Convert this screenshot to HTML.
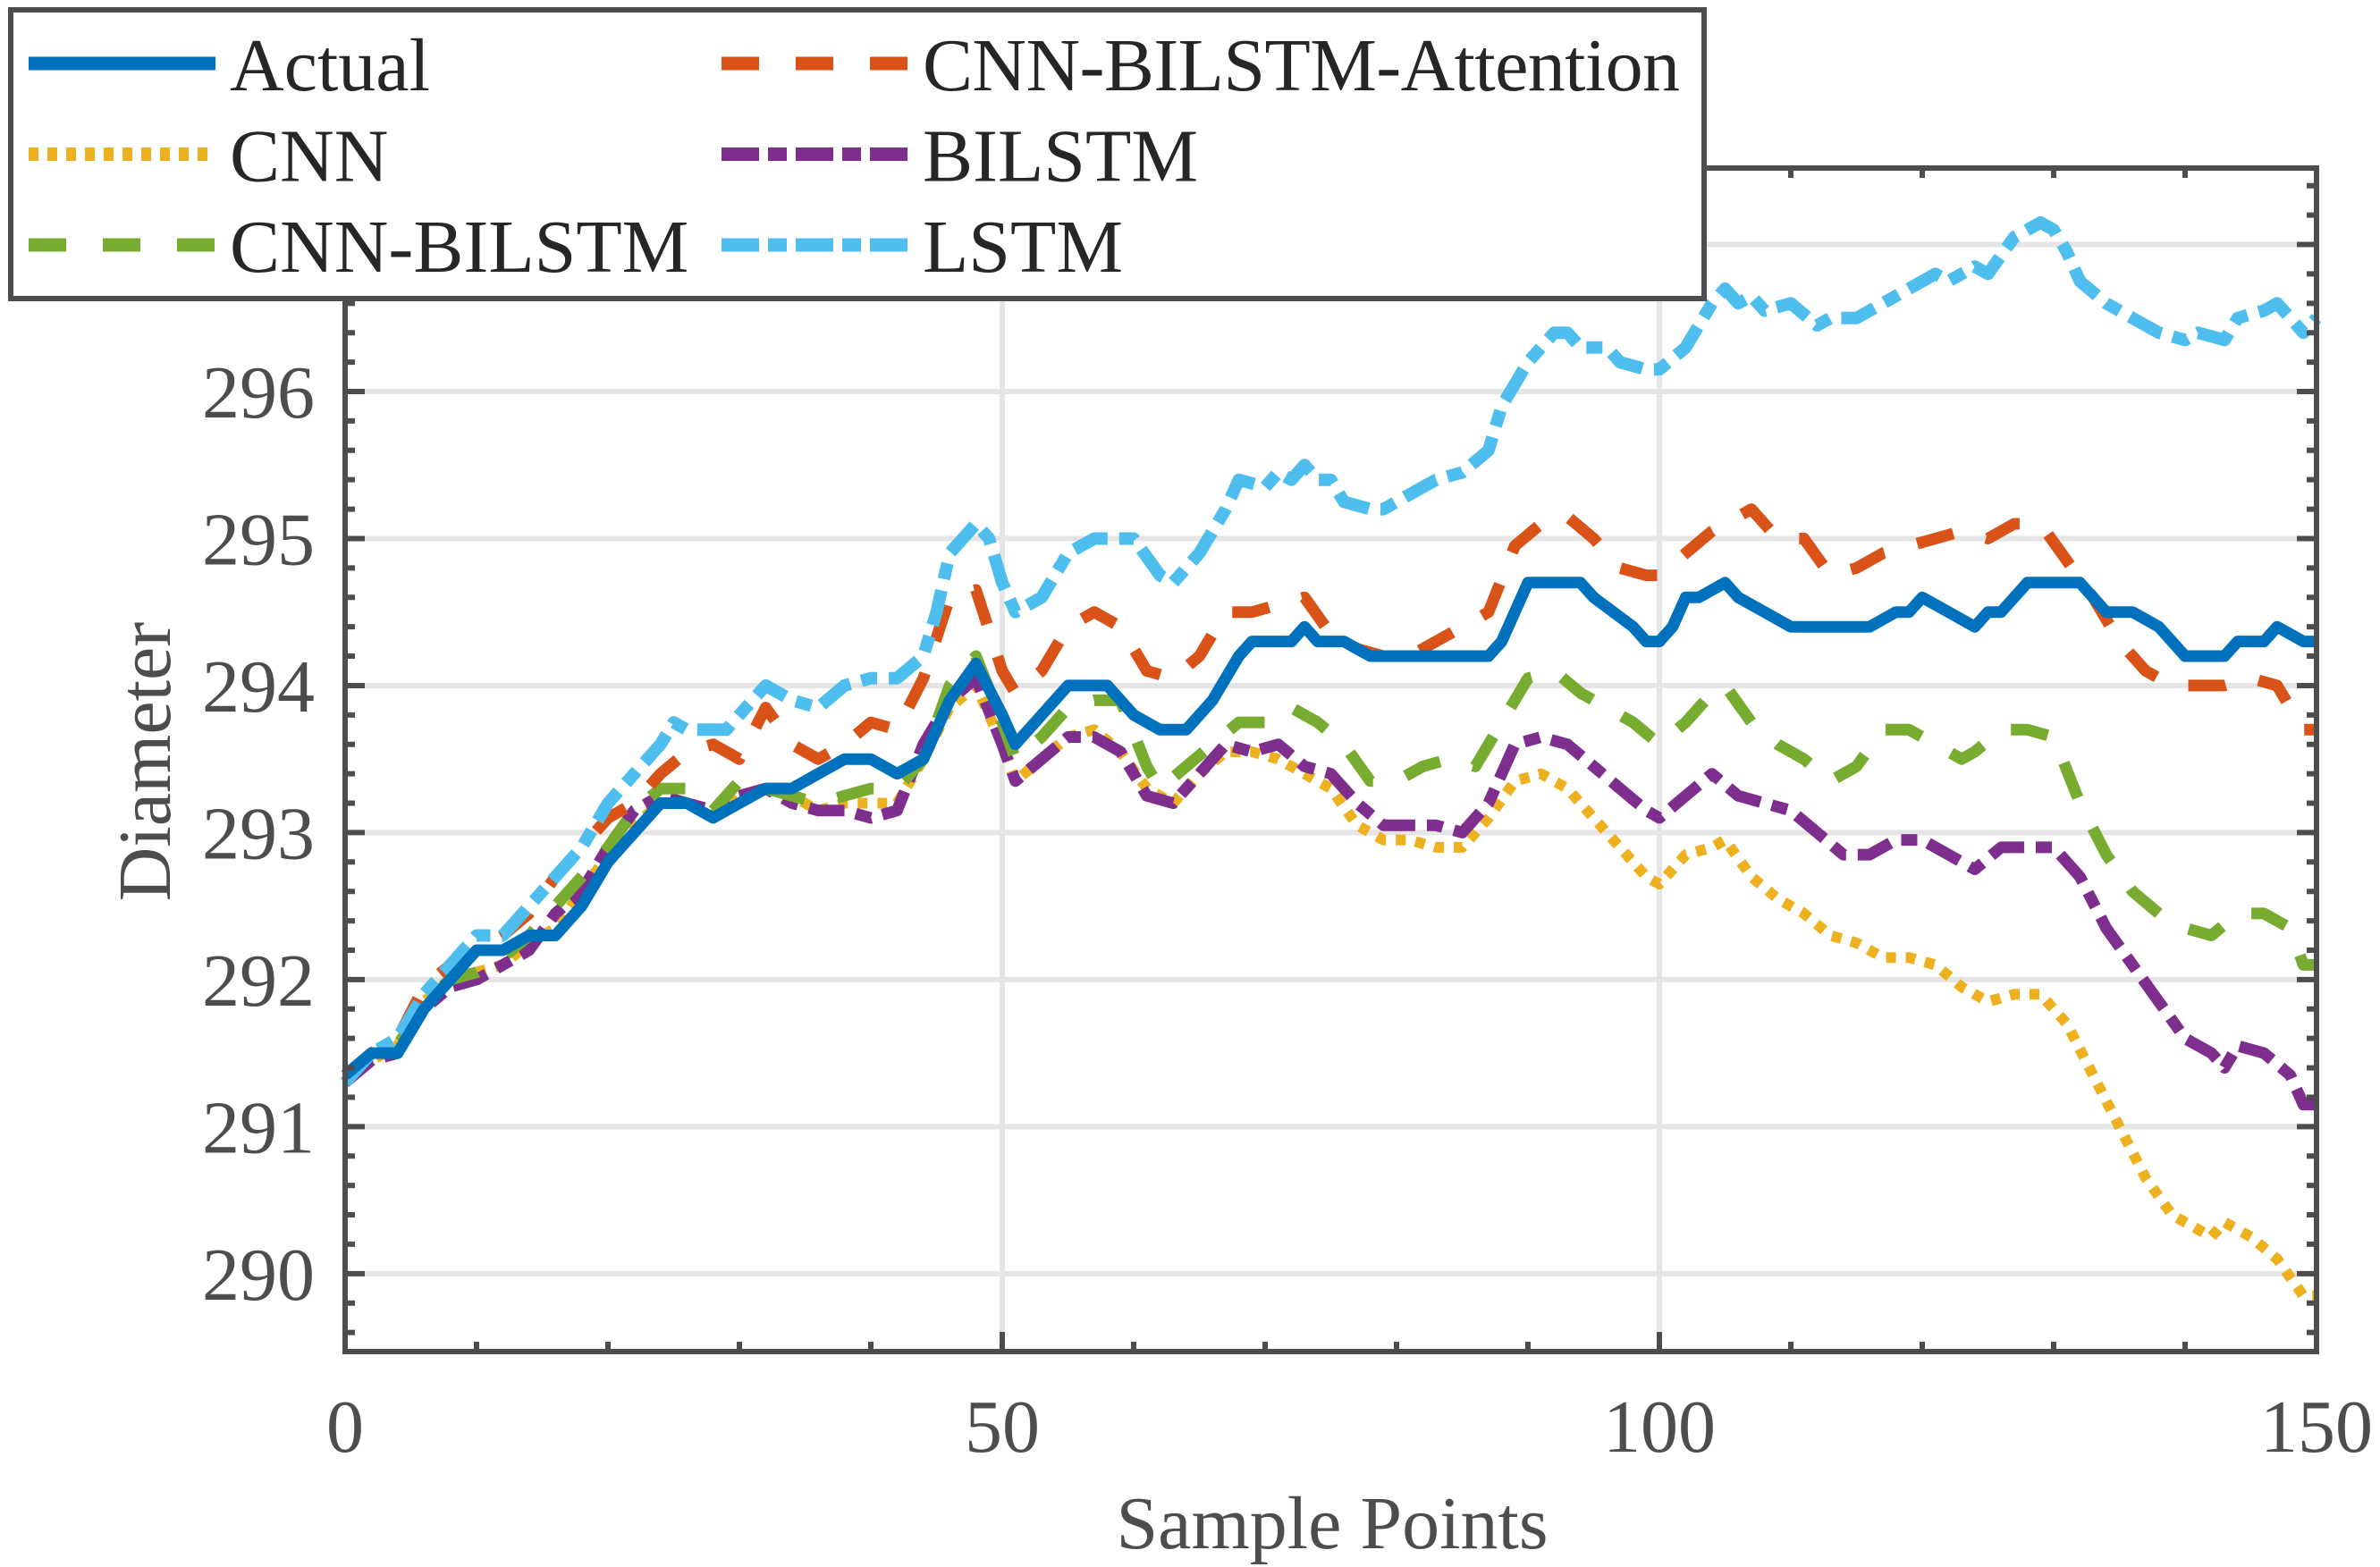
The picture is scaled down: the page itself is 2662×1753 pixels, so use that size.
<!DOCTYPE html>
<html><head><meta charset="utf-8"><style>
html,body{margin:0;padding:0;background:#fff;}
svg{display:block;font-family:"Liberation Serif",serif;}
</style></head><body>
<svg id="chart" width="2662" height="1753" viewBox="0 0 2662 1753" xmlns="http://www.w3.org/2000/svg">
<g id="grid"></g>
<g id="series"></g>
<g id="axes"></g>
<text x="0" y="0" transform="translate(190,852) rotate(-90)" text-anchor="middle" font-size="84" fill="#4d4d4d">Diameter</text>
<text x="1490" y="1732" text-anchor="middle" font-size="84" fill="#4d4d4d">Sample Points</text>
<g id="legend"></g>
</svg>
<script>
const xTicks=[0,50,100,150];
const yTicks=[290,291,292,293,294,295,296,297];
const names=["Actual","CNN","CNN-BILSTM","CNN-BILSTM-Attention","BILSTM","LSTM"];
const actualX=[0,2,4,6,8,10,12,14,16,18,20,22,24,26,28,30,32,34,36,38,40,42,44,46,48,50,51,53,55,58,60,62,64,66,68,69,72,73,74,76,78,87,88,90,94,95,98,99,100,101,102,103,105,106,108,110,116,118,119,120,122,124,125,126,128,132,134,136,138,140,143,144,146,147,149,150];
const actualY=[291.35,291.5,291.5,291.8,292.0,292.2,292.2,292.3,292.3,292.5,292.8,293.0,293.2,293.2,293.1,293.2,293.3,293.3,293.4,293.5,293.5,293.4,293.5,293.9,294.15,293.8,293.6,293.8,294.0,294.0,293.8,293.7,293.7,293.9,294.2,294.3,294.3,294.4,294.3,294.3,294.2,294.2,294.3,294.7,294.7,294.6,294.4,294.3,294.3,294.4,294.6,294.6,294.7,294.6,294.5,294.4,294.4,294.5,294.5,294.6,294.5,294.4,294.5,294.5,294.7,294.7,294.5,294.5,294.4,294.2,294.2,294.3,294.3,294.4,294.3,294.3];
const lstmX=[0,2,4,6,8,10,12,14,16,18,20,22,24,25,26,29,30,32,34,36,38,40,42,44,45,46,48,49,50,51,53,55,57,58,60,62,63,65,67,68,70,71,72,73,74,75,76,78,79,81,83,85,87,88,90,92,93,94,96,97,99,100,102,104,105,106,107,108,110,112,113,115,117,119,121,122,124,125,127,129,130,131,132,134,136,138,140,141,143,144,146,147,148,149,150];
const lstmY=[291.3,291.5,291.6,291.9,292.1,292.3,292.3,292.5,292.7,292.9,293.2,293.4,293.6,293.75,293.7,293.7,293.8,294.0,293.9,293.85,294.0,294.05,294.05,294.2,294.5,294.9,295.1,295.0,294.7,294.5,294.6,294.9,295.0,295.0,295.0,294.75,294.7,294.9,295.2,295.4,295.35,295.45,295.4,295.5,295.4,295.4,295.25,295.2,295.2,295.3,295.4,295.45,295.6,295.9,296.2,296.4,296.4,296.3,296.3,296.2,296.15,296.15,296.3,296.6,296.7,296.6,296.65,296.55,296.6,296.45,296.5,296.5,296.6,296.7,296.8,296.75,296.85,296.8,297.05,297.15,297.1,296.95,296.75,296.6,296.5,296.4,296.35,296.4,296.35,296.5,296.55,296.6,296.5,296.4,296.5];
const attX=[0,2,4,6,8,10,12,14,16,18,20,22,24,26,28,30,32,34,36,38,40,42,44,46,48,50,51,53,55,57,59,61,63,65,67,69,71,73,75,77,79,81,83,85,87,89,91,93,95,97,99,100,102,104,106,107,109,111,113,115,117,119,121,123,125,127,129,131,133,135,137,139,141,143,145,147,149,150];
const attY=[291.35,291.5,291.6,291.95,292.1,292.2,292.3,292.45,292.7,292.9,293.1,293.2,293.4,293.55,293.6,293.5,293.85,293.6,293.5,293.6,293.75,293.7,294.05,294.6,294.65,294.1,293.95,294.1,294.4,294.5,294.4,294.1,294.05,294.2,294.5,294.5,294.55,294.6,294.35,294.25,294.2,294.2,294.3,294.4,294.5,294.95,295.1,295.15,295.0,294.8,294.75,294.75,294.9,295.05,295.15,295.2,295.0,295.0,294.75,294.8,294.9,294.95,295.0,295.05,295.0,295.1,295.1,294.85,294.6,294.3,294.1,294.0,294.0,294.0,294.05,294.0,293.7,293.7];
const cbX=[0,2,4,6,8,10,12,14,16,18,20,22,24,26,28,30,32,34,36,38,40,42,44,46,48,50,51,53,55,57,59,61,62,64,66,68,70,72,74,76,78,80,82,84,86,88,90,92,94,96,98,100,102,104,105,107,109,111,113,115,117,119,121,123,124,126,128,130,132,134,136,138,140,142,144,146,148,149,150];
const cbY=[291.3,291.5,291.55,291.85,292.0,292.05,292.15,292.3,292.5,292.7,292.9,293.15,293.3,293.3,293.15,293.35,293.3,293.25,293.2,293.25,293.3,293.3,293.5,294.0,294.2,293.75,293.5,293.65,293.85,293.9,293.9,293.45,293.3,293.45,293.6,293.75,293.75,293.85,293.75,293.6,293.35,293.35,293.45,293.5,293.45,293.75,294.05,294.1,293.95,293.85,293.75,293.6,293.75,293.95,294.0,293.75,293.6,293.5,293.35,293.45,293.7,293.7,293.6,293.5,293.55,293.7,293.7,293.65,293.2,292.85,292.6,292.45,292.35,292.3,292.45,292.45,292.35,292.1,292.1];
const biX=[0,2,4,6,8,10,12,14,16,18,20,22,24,26,28,30,32,34,36,38,40,42,44,46,48,50,51,53,55,57,59,61,63,65,67,69,71,73,75,77,79,81,83,85,87,89,91,93,95,97,99,100,102,104,106,108,110,112,114,116,118,120,122,124,126,128,130,132,134,136,138,140,142,143,144,146,148,149,150];
const biY=[291.3,291.45,291.5,291.8,291.95,292.0,292.1,292.2,292.45,292.6,292.9,293.15,293.25,293.2,293.15,293.25,293.3,293.2,293.15,293.15,293.1,293.15,293.6,293.9,294.05,293.6,293.35,293.5,293.65,293.65,293.55,293.25,293.2,293.4,293.6,293.55,293.6,293.45,293.4,293.2,293.05,293.05,293.05,293.0,293.2,293.6,293.65,293.6,293.45,293.3,293.15,293.1,293.25,293.4,293.25,293.2,293.15,293.0,292.85,292.85,292.95,292.95,292.85,292.75,292.9,292.9,292.9,292.7,292.35,292.1,291.85,291.6,291.5,291.4,291.55,291.5,291.35,291.15,291.15];
const cnnX=[0,2,4,6,8,10,12,14,16,18,20,22,24,26,28,30,32,34,36,38,40,42,44,46,48,50,51,53,55,57,59,61,63,65,67,69,71,73,75,77,79,81,83,85,87,89,91,93,95,97,99,100,102,104,105,107,109,111,113,115,117,119,121,123,125,127,129,131,133,135,137,139,141,142,143,145,147,149,150];
const cnnY=[291.3,291.45,291.55,291.85,292.0,292.05,292.1,292.25,292.35,292.6,292.85,293.05,293.2,293.2,293.1,293.25,293.3,293.25,293.15,293.2,293.2,293.2,293.5,293.85,294.0,293.6,293.35,293.5,293.65,293.7,293.55,293.3,293.2,293.4,293.55,293.55,293.5,293.4,293.3,293.05,292.95,292.95,292.9,292.9,293.1,293.35,293.4,293.3,293.1,292.9,292.7,292.65,292.85,292.9,292.95,292.7,292.55,292.45,292.3,292.25,292.15,292.15,292.1,291.95,291.85,291.9,291.9,291.7,291.35,291.0,290.65,290.4,290.3,290.25,290.35,290.25,290.1,289.85,289.85];

const NS="http://www.w3.org/2000/svg";
const X0=386,X1=2591,Y0=1512,Y1=188;
const xMin=0,xMax=150,yMin=289.47,yMax=297.52;
function sx(v){return X0+(v-xMin)/(xMax-xMin)*(X1-X0);}
function sy(v){return Y0-(v-yMin)/(yMax-yMin)*(Y0-Y1);}
function mk(tag,attrs,parent){const e=document.createElementNS(NS,tag);for(const k in attrs)e.setAttribute(k,attrs[k]);parent.appendChild(e);return e;}
const grid=document.getElementById('grid'),axes=document.getElementById('axes'),ser=document.getElementById('series'),leg=document.getElementById('legend');
const AX="#4d4d4f";
for(const t of xTicks){if(t===xMin||t===xMax)continue;
 const g=mk('line',{x1:sx(t),x2:sx(t),y1:Y1,y2:Y0,stroke:'#e5e5e5','stroke-width':6},grid);
 
 }
for(const t of yTicks){const g=mk('line',{x1:X0,x2:X1,y1:sy(t),y2:sy(t),stroke:'#e5e5e5','stroke-width':6},grid);
 
 }
const defs=[
 {n:"CNN",x:cnnX,y:cnnY,c:"#EDB120",d:"11 11",w:12},
 {n:"BILSTM",x:biX,y:biY,c:"#7E2F8E",d:"40 13 18 13",w:13},
 {n:"CNN-BILSTM",x:cbX,y:cbY,c:"#77AC30",d:"42 38",w:13},
 {n:"CNN-BILSTM-Attention",x:attX,y:attY,c:"#D95319",d:"42 38",w:13},
 {n:"LSTM",x:lstmX,y:lstmY,c:"#4DBEEE",d:"40 13 18 13",w:14},
 {n:"Actual",x:actualX,y:actualY,c:"#0072BD",d:"",w:13}
];
for(const s of defs){
 let p="";for(let i=0;i<s.x.length;i++)p+=(i?"L":"M")+sx(s.x[i]).toFixed(1)+","+sy(s.y[i]).toFixed(1);
 const el=mk('path',{d:p,fill:'none',stroke:s.c,'stroke-width':s.w,'stroke-linejoin':'round'},ser);
 if(s.d)el.setAttribute('stroke-dasharray',s.d);
 
 
}
const box=mk('rect',{x:X0,y:Y1,width:X1-X0,height:Y0-Y1,fill:'none',stroke:AX,'stroke-width':6},axes);


let tp="";
for(let v=xMin;v<=xMax+0.01;v+=10){const major=(v%50===0);const L=major?22:11;tp+=`M${sx(v)},${Y0}v${-L}M${sx(v)},${Y1}v${L}`;}
for(let k=0;k<=40;k++){const v=289.6+k*0.2;if(v>yMax)break;const major=Math.abs(v-Math.round(v))<0.01;const L=major?22:11;tp+=`M${X0},${sy(v)}h${L}M${X1},${sy(v)}h${-L}`;}
const ticks=mk('path',{d:tp,stroke:AX,'stroke-width':6,fill:'none'},axes);


for(const t of xTicks){const e=mk('text',{x:sx(t),y:1624,'text-anchor':'middle','font-size':84,fill:'#4d4d4d'},axes);e.textContent=t;
 
 }
for(const t of yTicks){if(t>296)continue;const e=mk('text',{x:352,y:sy(t)+29,'text-anchor':'end','font-size':84,fill:'#4d4d4d'},axes);e.textContent=t;
 
 }
const lb=mk('rect',{x:12,y:11,width:1894,height:323,fill:'#fff',stroke:AX,'stroke-width':6},leg);


const legItems=[
 {n:"Actual",c:"#0072BD",d:"",col:0,row:0},
 {n:"CNN",c:"#EDB120",d:"11 10",col:0,row:1},
 {n:"CNN-BILSTM",c:"#77AC30",d:"42 41",col:0,row:2},
 {n:"CNN-BILSTM-Attention",c:"#D95319",d:"42 41",col:1,row:0},
 {n:"BILSTM",c:"#7E2F8E",d:"42 10 21 10",col:1,row:1},
 {n:"LSTM",c:"#4DBEEE",d:"42 10 21 10",col:1,row:2}
];
for(const it of legItems){
 const cy=71+it.row*101.5;const lx=it.col?807:32;const tx=it.col?1032:257;
 const g=mk('g',{},leg);
 
 
 const ln=mk('line',{x1:lx,x2:lx+209,y1:cy,y2:cy,stroke:it.c,'stroke-width':15},g);
 if(it.d)ln.setAttribute('stroke-dasharray',it.d);
 
 
 const t=mk('text',{x:tx,y:cy+30,'font-size':84,fill:'#262626'},g);t.textContent=it.n;
 if(it.n==="CNN-BILSTM-Attention")t.setAttribute('textLength','847');
 
 
}
</script>
</body></html>
